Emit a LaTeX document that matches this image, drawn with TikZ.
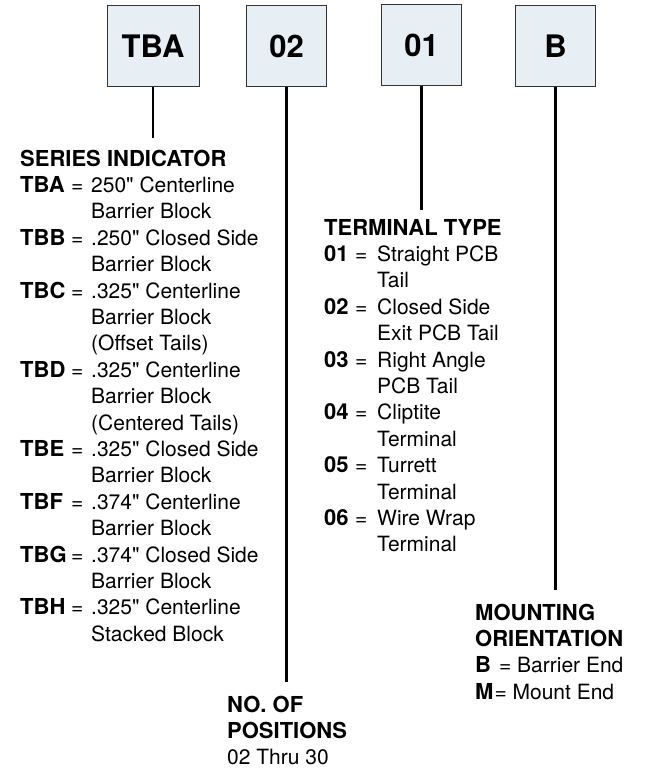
\documentclass[tikz,border=0pt]{standalone}
\usepackage{fontspec}
\setmainfont[Ligatures=TeXOff]{TeX Gyre Heros}
\usepackage{array}
\definecolor{boxfill}{HTML}{E7EEF4}
\definecolor{boxline}{HTML}{333333}
\newcommand\hdf{\fontsize{22}{26.4}\selectfont\bfseries}
\newcommand\bdf{\fontsize{21}{26.4}\selectfont}
\tikzset{
  codebox/.style={draw=boxline, line width=1pt, fill=boxfill, minimum height=80pt,
    inner sep=0pt, font=\fontsize{31}{31}\selectfont\bfseries},
  leader/.style={line width=2.4pt, black},
  legend/.style={anchor=base west, inner sep=0pt, font=\bdf, align=left}
}
\begin{document}
\begin{tikzpicture}[x=1pt,y=-1pt]
\useasboundingbox (0,0) rectangle (646,768);
% code boxes
\node[codebox, minimum width=92pt] (tba)  at (153,46)   {TBA};
\node[codebox, minimum width=80pt] (pos)  at (286.5,46) {02};
\node[codebox, minimum width=80pt] (term) at (421.5,45) {01};
\node[codebox, minimum width=80pt] (mnt)  at (555.5,46) {B};
% leader ends
\coordinate (tbaend)  at (153,138);
\coordinate (posend)  at (286.5,682);
\coordinate (termend) at (421.5,210);
\coordinate (mntend)  at (555.5,590);
\draw[leader] (tba.south)  -- (tbaend);
\draw[leader] (pos.south)  -- (posend);
\draw[leader] (term.south) -- (termend);
\draw[leader] (mnt.south)  -- (mntend);
% series indicator
\node[legend] (series) at (20,166) {%
\begin{tabular}[t]{@{}>{\hdf}p{51pt}@{}p{20pt}@{}l@{}}
\multicolumn{3}{@{}l@{}}{\hdf SERIES INDICATOR}\\
TBA & = & 250" Centerline\\
    &   & Barrier Block\\
TBB & = & .250" Closed Side\\
    &   & Barrier Block\\
TBC & = & .325" Centerline\\
    &   & Barrier Block\\
    &   & (Offset Tails)\\
TBD & = & .325" Centerline\\
    &   & Barrier Block\\
    &   & (Centered Tails)\\
TBE & = & .325" Closed Side\\
    &   & Barrier Block\\
TBF & = & .374" Centerline\\
    &   & Barrier Block\\
TBG & = & .374" Closed Side\\
    &   & Barrier Block\\
TBH & = & .325" Centerline\\
    &   & Stacked Block
\end{tabular}};
% terminal type
\node[legend] (ttype) at (324,235) {%
\begin{tabular}[t]{@{}>{\hdf}p{31pt}@{}p{22pt}@{}l@{}}
\multicolumn{3}{@{}l@{}}{\hdf TERMINAL TYPE}\\
01 & = & Straight PCB\\
   &   & Tail\\
02 & = & Closed Side\\
   &   & Exit PCB Tail\\
03 & = & Right Angle\\
   &   & PCB Tail\\
04 & = & Cliptite\\
   &   & Terminal\\
05 & = & Turrett\\
   &   & Terminal\\
06 & = & Wire Wrap\\
   &   & Terminal
\end{tabular}};
% mounting orientation
\node[legend] (mount) at (475,620) {%
\begin{tabular}[t]{@{}>{\hdf}p{24pt}@{}p{18pt}@{}l@{}}
\multicolumn{3}{@{}l@{}}{\hdf MOUNTING}\\
\multicolumn{3}{@{}l@{}}{\hdf ORIENTATION}\\
B & = & Barrier End\\
\multicolumn{3}{@{}l@{}}{{\hdf M}\kern1pt= Mount End}
\end{tabular}};
% number of positions
\node[legend] (npos) at (227,712) {%
\begin{tabular}[t]{@{}l@{}}
{\hdf NO. OF}\\
{\hdf POSITIONS}\\
02 Thru 30
\end{tabular}};
\end{tikzpicture}
\end{document}
